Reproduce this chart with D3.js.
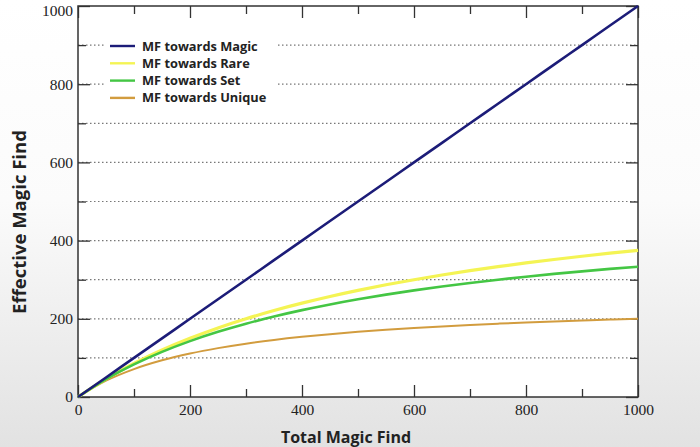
<!DOCTYPE html>
<html><head><meta charset="utf-8">
<script src="https://cdn.jsdelivr.net/npm/d3@7"></script>
<style>html,body{margin:0;padding:0;background:#fff;}svg{display:block;}</style>
</head><body>
<svg id="chart" width="700" height="447"></svg>
<script>
// Data (Total MF -> Effective MF)
const totalMF = [0,50,100,150,200,250,300,350,400,450,500,550,600,650,700,750,800,850,900,950,1000];
const mfMagic = [0,50,100,150,200,250,300,350,400,450,500,550,600,650,700,750,800,850,900,950,1000];
const mfRare = [0,46.2,85.7,120,150,176.5,200,221.1,240,257.1,272.7,287,300,312,323.1,333.3,342.9,351.7,360,367.9,375];
const mfSet = [0,45.5,83.3,115.4,142.9,166.7,187.5,205.9,222.2,236.8,250,261.9,272.7,282.6,291.7,300,307.7,314.8,321.4,327.6,333.3];
const mfUnique = [0,41.7,71.4,93.8,111.1,125,136.4,145.8,153.8,160.7,166.7,171.9,176.5,180.6,184.2,187.5,190.5,193.2,195.7,198,200];
const seriesNames = ["MF towards Magic","MF towards Rare","MF towards Set","MF towards Unique"];
const xTicks = [0,200,400,600,800,1000];
const yTicks = [0,200,400,600,800,1000];
const gridValues = [100,200,300,400,500,600,700,800,900];

const svg = d3.select("#chart");
const W = 700, H = 447;
const m = {left:78, right:62, top:6, bottom:50};
const pw = W - m.left - m.right, ph = H - m.top - m.bottom;

// background gradient
const defs = svg.append("defs");
const lg = defs.append("linearGradient").attr("id","bg").attr("x1",0).attr("y1",0).attr("x2",0).attr("y2",1);
lg.append("stop").attr("offset","0%").attr("stop-color","#ffffff");
lg.append("stop").attr("offset","45%").attr("stop-color","#fbfbfb");
lg.append("stop").attr("offset","100%").attr("stop-color","#e2e2e2");
svg.append("rect").attr("width",W).attr("height",H).attr("fill","url(#bg)");

const x = d3.scaleLinear().domain([0,1000]).range([m.left, m.left+pw]);
const y = d3.scaleLinear().domain([0,1000]).range([m.top+ph, m.top]);

svg.append("rect").attr("x",m.left).attr("y",m.top).attr("width",pw).attr("height",ph).attr("fill","#fff");

// grid
svg.append("g").selectAll("line").data(gridValues).join("line")
  .attr("x1",x(0)).attr("x2",x(1000)).attr("y1",d=>y(d)).attr("y2",d=>y(d))
  .attr("stroke","#777").attr("stroke-width",1.2).attr("stroke-dasharray","1.5,2.5");

// axes
const tickFont = "'Liberation Serif', 'DejaVu Serif', serif";
function styleAxis(g){
  g.attr("font-family",null).attr("font-size",null);
  g.select(".domain").remove();
  g.selectAll("line").attr("stroke","#333").attr("stroke-width",1.3);
  g.selectAll("text").style("font-family",tickFont).style("font-size","15.5px").attr("fill","#222");
}
const minor = d3.range(0,1001,100);
const xb = svg.append("g").attr("transform",`translate(0,${y(0)})`)
  .call(d3.axisBottom(x).tickValues(minor).tickSize(-8).tickPadding(7).tickFormat(d=>xTicks.includes(d)?d:""));
styleAxis(xb);
xb.selectAll(".tick line").attr("y2",d=>xTicks.includes(d)?-12:-8);
const xt = svg.append("g").attr("transform",`translate(0,${y(1000)})`)
  .call(d3.axisTop(x).tickValues(minor).tickSize(-8).tickFormat(""));
styleAxis(xt);
xt.selectAll(".tick line").attr("y2",d=>xTicks.includes(d)?12:8);
const yl = svg.append("g").attr("transform",`translate(${x(0)},0)`)
  .call(d3.axisLeft(y).tickValues(minor).tickSize(-8).tickPadding(5).tickFormat(d=>yTicks.includes(d)?d:""));
styleAxis(yl);
yl.selectAll(".tick line").attr("x2",d=>yTicks.includes(d)?12:8);
yl.selectAll(".tick text").attr("x",-5).attr("dy",d=>d===1000?"0.6em":"0.32em");
const yr = svg.append("g").attr("transform",`translate(${x(1000)},0)`)
  .call(d3.axisRight(y).tickValues(minor).tickSize(-8).tickFormat(""));
styleAxis(yr);
yr.selectAll(".tick line").attr("x2",d=>yTicks.includes(d)?-12:-8);

// frame
svg.append("rect").attr("x",m.left).attr("y",m.top).attr("width",pw).attr("height",ph)
  .attr("fill","none").attr("stroke","#333").attr("stroke-width",1.5);

// lines
const colors = ["#1c1c78","#f4f454","#44c644","#d29c3e"];
const widths = [2.6,3.2,2.6,2];
const allSeries = [mfMagic, mfRare, mfSet, mfUnique];
const line = d3.line().x((d,i)=>x(totalMF[i])).y(d=>y(d)).curve(d3.curveMonotoneX);
const order = [3,1,2,0];
order.forEach(i=>{
  svg.append("path").datum(allSeries[i]).attr("d",line)
    .attr("fill","none").attr("stroke",colors[i]).attr("stroke-width",widths[i]).attr("stroke-linejoin","round");
});

// legend
const leg = svg.append("g");
leg.append("rect").attr("x",104).attr("y",36).attr("width",172).attr("height",70).attr("fill","#fff");
const legFont = "'Open Sans', 'DejaVu Sans', sans-serif";
seriesNames.forEach((n,i)=>{
  const yy = 46 + i*17.3;
  leg.append("line").attr("x1",110).attr("x2",135).attr("y1",yy).attr("y2",yy)
    .attr("stroke",colors[i]).attr("stroke-width",2.4);
  leg.append("text").attr("x",142).attr("y",yy+4.5).text(n)
    .style("font-family",legFont).style("font-weight","bold").style("font-size","12.8px").attr("fill","#222");
});

// axis titles
const titleFont = "'Open Sans', 'DejaVu Sans', sans-serif";
svg.append("text").attr("x",346).attr("y",443).attr("text-anchor","middle")
  .style("font-family",titleFont).style("font-weight","bold").style("font-size","16px").attr("fill","#222")
  .text("Total Magic Find");
svg.append("text").attr("transform",`translate(26,222) rotate(-90)`).attr("text-anchor","middle")
  .style("font-family",titleFont).style("font-weight","bold").style("font-size","18.5px").attr("fill","#222")
  .text("Effective Magic Find");
</script>
</body></html>
